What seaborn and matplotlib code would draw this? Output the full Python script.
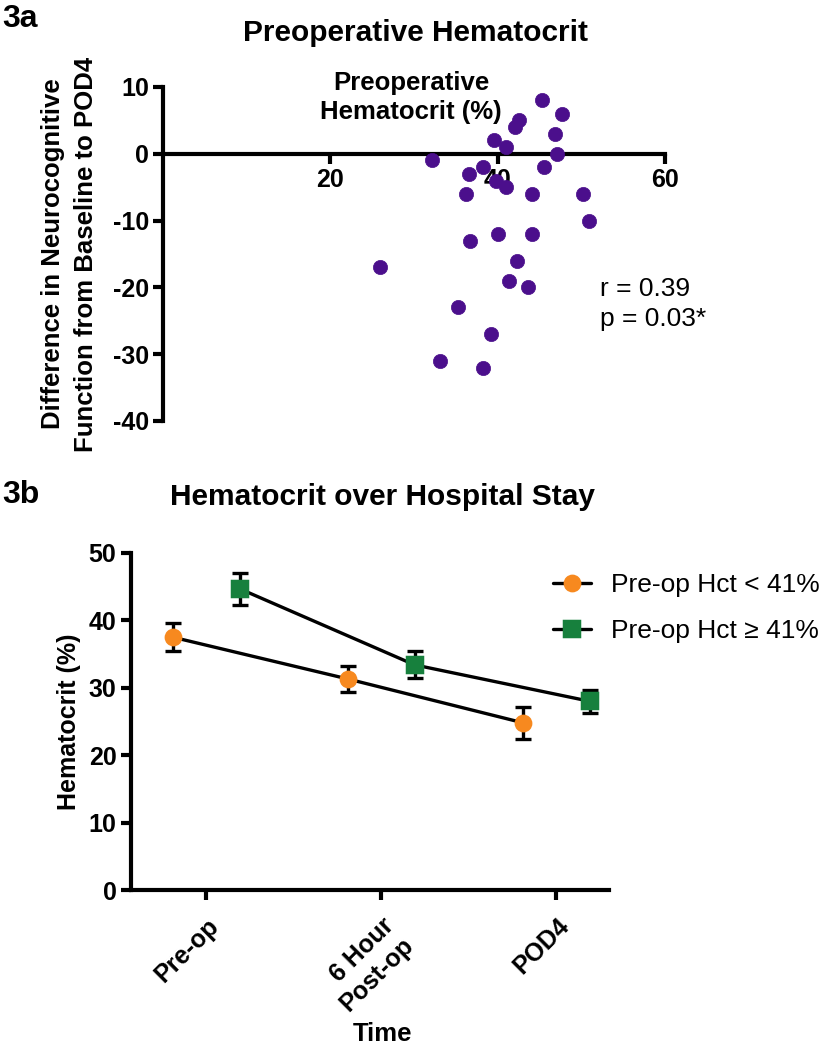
import numpy as np
import pandas as pd
import seaborn as sns
import matplotlib
matplotlib.use("Agg")
import matplotlib.pyplot as plt

# 3a scatter data
hct = [45.3, 47.7, 42.5, 42.1, 46.9, 39.6, 41.0, 47.1, 32.1, 38.3, 45.5, 36.6, 39.8,
       41.0, 36.2, 44.1, 50.2, 50.9, 40.0, 44.1, 36.7, 42.3, 25.9, 41.3, 43.6, 35.3,
       39.2, 33.1, 38.2]
diff = [8, 6, 5, 4, 3, 2, 1, 0, -1, -2, -2, -3, -4, -5, -6, -6, -6, -10, -12, -12,
        -13, -16, -17, -19, -20, -23, -27, -31, -32]

# 3b hematocrit over time
times = ['Pre-op', '6 Hour\nPost-op', 'POD4']
groups = ['Pre-op Hct < 41%', 'Pre-op Hct \u2265 41%']
low_mean = [37.5, 31.3, 24.8]
low_sem = [2.1, 1.9, 2.4]
high_mean = [44.7, 33.4, 28.0]
high_sem = [2.4, 2.0, 1.7]

purple = '#4b0f8c'
orange = '#f7891f'
green = '#17803d'

sns.set_theme(style='ticks')
plt.rcParams['font.family'] = ['Liberation Sans', 'DejaVu Sans']
plt.rcParams['axes.unicode_minus'] = False
plt.rcParams['text.color'] = 'black'
plt.rcParams['axes.labelcolor'] = 'black'
plt.rcParams['axes.linewidth'] = 3
plt.rcParams['xtick.major.width'] = 3
plt.rcParams['ytick.major.width'] = 3
plt.rcParams['xtick.major.size'] = 7
plt.rcParams['ytick.major.size'] = 7
plt.rcParams['axes.edgecolor'] = 'black'
plt.rcParams['xtick.color'] = 'black'
plt.rcParams['ytick.color'] = 'black'

W, H = 824, 1050
fig = plt.figure(figsize=(W / 100, H / 100), dpi=100)

def fx(px):
    return px / W

def fy(py):
    return 1 - py / H

# ---------- 3a ----------
ax1 = fig.add_axes([fx(163), fy(421), fx(665) - fx(163), fy(87) - fy(421)])
sdf = pd.DataFrame({'hct': hct, 'diff': diff})
sns.scatterplot(data=sdf, x='hct', y='diff', ax=ax1, color=purple, s=105,
                edgecolor=purple, linewidth=0.5, zorder=4, clip_on=False)
ax1.set_xlim(0, 60)
ax1.set_ylim(-40, 10)
ax1.spines['top'].set_visible(False)
ax1.spines['right'].set_visible(False)
ax1.spines['bottom'].set_position(('data', 0))
ax1.set_xticks([20, 40, 60])
ax1.set_yticks([10, 0, -10, -20, -30, -40])
for lab in ax1.get_xticklabels() + ax1.get_yticklabels():
    lab.set_fontweight('bold')
    lab.set_fontsize(18)
ax1.tick_params(axis='both', pad=3)
ax1.set_xlabel('')
ax1.set_ylabel('Difference in Neurocognitive\nFunction from Baseline to POD4',
               fontsize=18.5, fontweight='bold', linespacing=1.45)
ax1.yaxis.set_label_coords(-0.13, 0.5)
ax1.text(0.494, 0.969, 'Preoperative\nHematocrit (%)', transform=ax1.transAxes,
         ha='center', va='center', fontsize=18.5, fontweight='bold', linespacing=1.25)
ax1.text(52.2, -22.5, 'r = 0.39\np = 0.03*', ha='left', va='center', fontsize=19,
         linespacing=1.3)

fig.text(fx(415), fy(33), 'Preoperative Hematocrit', ha='center', va='center',
         fontsize=21.5, fontweight='bold')
fig.text(fx(2), fy(19), '3a', ha='left', va='center', fontsize=23, fontweight='bold')

# ---------- 3b ----------
ax2 = fig.add_axes([fx(131), fy(890), fx(609) - fx(131), fy(553) - fy(890)])
ldf = pd.DataFrame({
    'time': times * 2,
    'hct': low_mean + high_mean,
    'sem': low_sem + high_sem,
    'group': [groups[0]] * 3 + [groups[1]] * 3,
})
sns.pointplot(data=ldf, x='time', y='hct', hue='group', hue_order=groups,
              order=times, dodge=0.38, markers=['o', 's'], linestyles=['-', '-'],
              palette=[orange, green], errorbar=None, ax=ax2, legend=False,
              markersize=11, linewidth=2.4)
pt_lines = list(ax2.lines[:2])
for line, col, sem in zip(pt_lines, [orange, green], [low_sem, high_sem]):
    line.set_color('black')
    line.set_markerfacecolor(col)
    line.set_markeredgecolor(col)
    line.set_zorder(4)
    ax2.errorbar(line.get_xdata(), line.get_ydata(), yerr=sem, fmt='none',
                 ecolor='black', elinewidth=2.4, capsize=6, capthick=2.4, zorder=3)

ax2.set_xlim(-0.43, 2.3)
ax2.set_ylim(0, 50)
ax2.set_yticks([0, 10, 20, 30, 40, 50])
ax2.spines['top'].set_visible(False)
ax2.spines['right'].set_visible(False)
ax2.set_xticks(range(len(times)))
ax2.set_xticklabels(times, rotation=45, ha='right', rotation_mode='anchor')
for lab in ax2.get_xticklabels() + ax2.get_yticklabels():
    lab.set_fontweight('bold')
    lab.set_fontsize(18)
ax2.tick_params(axis='x', pad=10)
ax2.set_ylabel('Hematocrit (%)', fontsize=18, fontweight='bold')
ax2.yaxis.set_label_coords(-0.105, 0.5)
ax2.set_xlabel('Time', fontsize=18.5, fontweight='bold', va='top')
ax2.xaxis.set_label_coords(0.527, -0.392)

ax2.legend(handles=pt_lines, labels=groups, loc='upper left',
           bbox_to_anchor=(fx(553), fy(573)), bbox_transform=fig.transFigure,
           frameon=False, fontsize=19, handlelength=1.45, handletextpad=0.75,
           labelspacing=0.85, borderpad=0, borderaxespad=0)

fig.text(fx(382), fy(497), 'Hematocrit over Hospital Stay', ha='center', va='center',
         fontsize=21.5, fontweight='bold')
fig.text(fx(2), fy(495), '3b', ha='left', va='center', fontsize=23, fontweight='bold')

fig.savefig('out.png', dpi=100, facecolor='white')
